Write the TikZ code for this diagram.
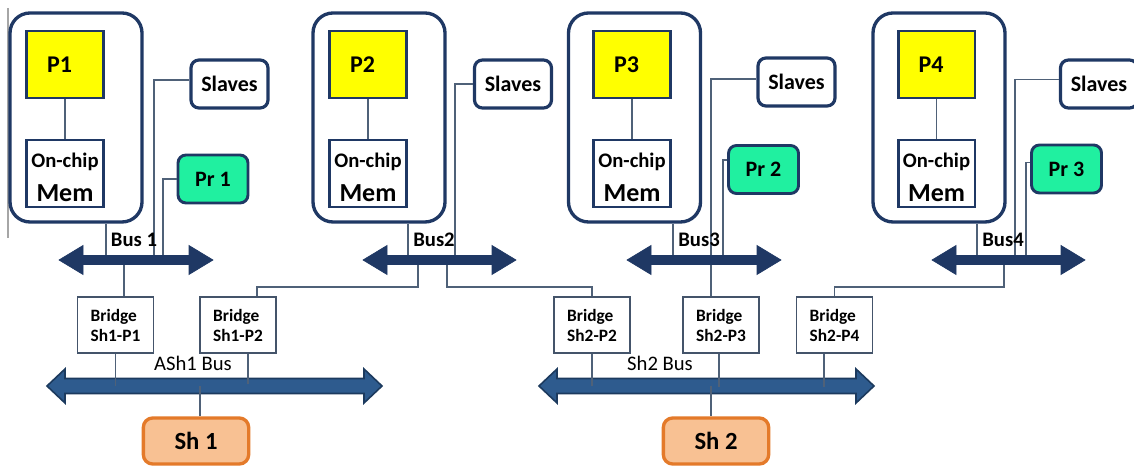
\documentclass[tikz,border=0pt]{standalone}
\usepackage{fontspec}
\setmainfont{Carlito}
\usetikzlibrary{calc}
\definecolor{navy}{HTML}{1F3864}
\definecolor{wirecol}{HTML}{4F6178}
\definecolor{mint}{HTML}{20F0A0}
\definecolor{pyellow}{HTML}{FFFF00}
\definecolor{shfill}{HTML}{F8C193}
\definecolor{shline}{HTML}{E47A2A}
\definecolor{busblue}{HTML}{2E5B8E}
\definecolor{busdark}{HTML}{1C3A5E}
\definecolor{brgcol}{HTML}{44546A}
\newcommand{\busarrow}[7]{%
  \draw[#1] (#2,#4) -- (#2+#7,#4-#6) -- (#2+#7,#4-#5) -- (#3-#7,#4-#5) -- (#3-#7,#4-#6) -- (#3,#4)
    -- (#3-#7,#4+#6) -- (#3-#7,#4+#5) -- (#2+#7,#4+#5) -- (#2+#7,#4+#6) -- cycle;}
\begin{document}
\begin{tikzpicture}[x=0.75pt,y=-0.75pt,
  cpu/.style={draw=navy,line width=2.5pt,rounded corners=15pt,minimum width=99pt,minimum height=156.75pt,inner sep=0pt},
  pbox/.style={draw=navy,fill=pyellow,line width=2pt,minimum width=57.5pt,minimum height=50.25pt,inner sep=0pt},
  ptxt/.style={xshift=-4pt,inner sep=0pt,font=\bfseries\fontsize{18}{20}\selectfont},
  mbox/.style={draw=navy,fill=white,line width=2pt,minimum width=57.5pt,minimum height=50.25pt,inner sep=0pt},
  ontxt/.style={anchor=base,yshift=8.6pt,inner sep=0pt,font=\bfseries\fontsize{15.5}{17}\selectfont},
  memtxt/.style={anchor=base,yshift=-14.6pt,inner sep=0pt,font=\bfseries\fontsize{19.5}{21}\selectfont},
  slv/.style={draw=navy,fill=white,line width=2.4pt,rounded corners=6pt,minimum width=57.75pt,minimum height=36pt,inner sep=0pt,font=\bfseries\fontsize{16.5}{18}\selectfont},
  prb/.style={draw=navy,fill=mint,line width=2.2pt,rounded corners=6pt,minimum width=52.5pt,minimum height=36pt,inner sep=0pt,font=\bfseries\fontsize{16.5}{18}\selectfont},
  brg/.style={draw=brgcol,fill=white,line width=0.8pt,minimum width=57pt,minimum height=42pt,inner sep=0pt,align=left,font=\bfseries\fontsize{13}{15}\selectfont},
  shb/.style={draw=shline,fill=shfill,line width=2.5pt,rounded corners=7pt,minimum width=79pt,minimum height=34.5pt,inner sep=0pt,font=\bfseries\fontsize{18.5}{20}\selectfont},
  buslbl/.style={font=\bfseries\fontsize{15.5}{17}\selectfont,inner sep=0pt},
  shlbl/.style={font=\fontsize{15.5}{17}\selectfont,inner sep=0pt},
  wire/.style={draw=wirecol,line width=1pt},
  topbus/.style={fill=navy,draw=navy,line width=0.5pt},
  lowbus/.style={fill=busblue,draw=busdark,line width=1.2pt}
]
\useasboundingbox (0,0) rectangle (1134,466);
\clip (0,0) rectangle (1134,466);

% stray margin line
\draw[gray!70,line width=0.8pt] (8,8) -- (8,238);

% bus centres
\coordinate (bus1) at (136,260);
\coordinate (bus2) at (439.5,260);
\coordinate (bus3) at (704,260);
\coordinate (bus4) at (1008.5,260);
\coordinate (ash1) at (214.5,386);
\coordinate (shbus2) at (706.5,386);

% processor clusters
\node[cpu] (cpu1) at (76,117.5) {};
\node[pbox,label={[ptxt]center:P1}] (P1) at (65,64.5) {};
\node[mbox,label={[ontxt]center:On-chip},label={[memtxt]center:Mem}] (M1) at (65,173.5) {};
\draw[wire] (P1) -- (M1);

\node[cpu] (cpu2) at (379,117.5) {};
\node[pbox,label={[ptxt]center:P2}] (P2) at (368,64.5) {};
\node[mbox,label={[ontxt]center:On-chip},label={[memtxt]center:Mem}] (M2) at (368,173.5) {};
\draw[wire] (P2) -- (M2);

\node[cpu] (cpu3) at (634.5,117.5) {};
\node[pbox,label={[ptxt]center:P3}] (P3) at (632,64.5) {};
\node[mbox,label={[ontxt]center:On-chip},label={[memtxt]center:Mem}] (M3) at (632,173.5) {};
\draw[wire] (P3) -- (M3);

\node[cpu] (cpu4) at (939,117.5) {};
\node[pbox,label={[ptxt]center:P4}] (P4) at (936.5,64.5) {};
\node[mbox,label={[ontxt]center:On-chip},label={[memtxt]center:Mem}] (M4) at (936.5,173.5) {};
\draw[wire] (P4) -- (M4);

% slaves and peripherals
\node[slv] (S1) at (229.5,84) {Slaves};
\node[prb] (Pr1) at (213,179) {Pr 1};
\node[slv] (S2) at (513,84) {Slaves};
\node[slv] (S3) at (796.5,82) {Slaves};
\node[prb] (Pr2) at (763.5,169.5) {Pr 2};
\node[slv] (S4) at (1099,84) {Slaves};
\node[prb] (Pr3) at (1066.5,169) {Pr 3};

% bridges
\node[brg] (B11) at (115.5,325) {Bridge\\Sh1-P1};
\node[brg] (B12) at (238,325) {Bridge\\Sh1-P2};
\node[brg] (B22) at (592,325) {Bridge\\Sh2-P2};
\node[brg] (B23) at (721,325) {Bridge\\Sh2-P3};
\node[brg] (B24) at (834.5,325) {Bridge\\Sh2-P4};

% shared memories
\node[shb] (Sh1) at (196,441) {Sh 1};
\node[shb] (Sh2) at (716,441) {Sh 2};

% wires of bus 1
\coordinate (t1a) at ($(bus1)+(-30,0)$);
\draw[wire] (t1a) -- (t1a |- cpu1.south);
\draw[wire] ([yshift=3pt]S1.west) -| ($(bus1)+(18,0)$);
\draw[wire] (Pr1.west) -| ($(bus1)+(27,0)$);
\coordinate (t1d) at ($(bus1)+(-12,0)$);
\draw[wire] (t1d) -- (t1d |- B11.north);

% wires of bus 2
\coordinate (t2a) at ($(bus2)+(-31.5,0)$);
\draw[wire] (t2a) -- (t2a |- cpu2.south);
\draw[wire] (S2.west) -| ($(bus2)+(15.5,0)$);
\draw[wire] ($(bus2)+(-21.5,0)$) -- ++(0,27) -| ([xshift=14.25pt]B12.north);
\draw[wire] ($(bus2)+(7.5,0)$) -- ++(0,27) -| (B22.north);

% wires of bus 3
\coordinate (t3a) at ($(bus3)+(-31,0)$);
\draw[wire] (t3a) -- (t3a |- cpu3.south);
\draw[wire] ([yshift=2.25pt]S3.west) -| ($(bus3)+(7,0)$);
\draw[wire] ([yshift=7pt]Pr2.west) -| ($(bus3)+(19,0)$);
\coordinate (t3s) at ($(bus3)+(7,0)$);
\draw[wire] (t3s) -- (t3s |- B23.north);

% wires of bus 4
\coordinate (t4a) at ($(bus4)+(-31.5,0)$);
\draw[wire] (t4a) -- (t4a |- cpu4.south);
\draw[wire] ([yshift=3.5pt]S4.west) -| ($(bus4)+(6.5,0)$);
\draw[wire] ([yshift=5pt]Pr3.west) -| ($(bus4)+(17.5,0)$);
\draw[wire] ($(bus4)+(-4.5,0)$) -- ++(0,27) -| (B24.north);

% top buses
\busarrow{topbus}{59}{213}{260}{4.5}{14.5}{24}
\busarrow{topbus}{363}{516}{260}{4.5}{14.5}{24}
\busarrow{topbus}{627}{781}{260}{4.5}{14.5}{24}
\busarrow{topbus}{932}{1085}{260}{4.5}{14.5}{24}

\node[buslbl] (L1) at (134,240) {Bus 1};
\node[buslbl] (L2) at (434,240) {Bus2};
\node[buslbl] (L3) at (699,240) {Bus3};
\node[buslbl] (L4) at (1003,240) {Bus4};

% shared buses
\busarrow{lowbus}{47}{382}{386}{7.5}{17}{18}
\busarrow{lowbus}{539}{874}{386}{7.5}{17}{18}
\node[shlbl] (LA) at (193,363) {ASh1 Bus};
\node[shlbl] (LB) at (660,363) {Sh2 Bus};

\draw[wire] (B11.south) -- (B11.south |- ash1);
\draw[wire] ([xshift=7.5pt]B12.south) -- ++(0,30);
\coordinate (s1t) at ($(ash1)+(-14.5,0)$);
\draw[wire] (s1t) -- (s1t |- Sh1.north);
\draw[wire] (B22.south) -- (B22.south |- shbus2);
\draw[wire] ([xshift=-1.5pt]B23.south) -- ++(0,33);
\draw[wire] ([xshift=-7.9pt]B24.south) -- ++(0,33);
\coordinate (s2t) at ($(shbus2)+(4.5,0)$);
\draw[wire] (s2t) -- (s2t |- Sh2.north);
\end{tikzpicture}
\end{document}
